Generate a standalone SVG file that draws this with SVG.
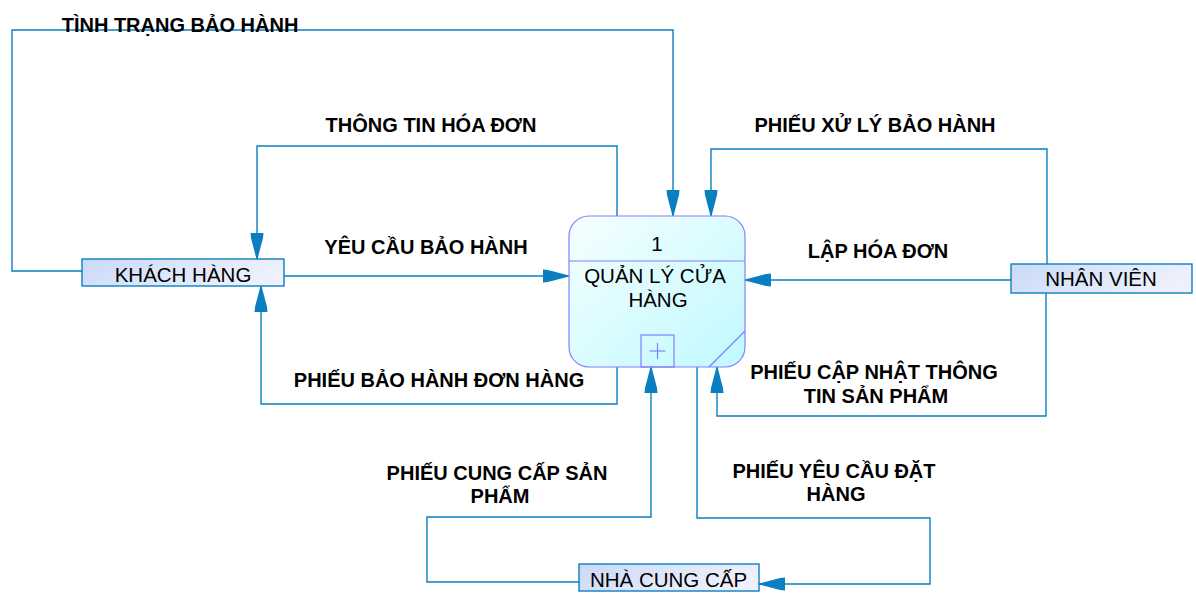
<svg xmlns="http://www.w3.org/2000/svg" width="1196" height="606" viewBox="0 0 1196 606">
  <style>
    .flow { fill: none; stroke: #0a7fc0; stroke-width: 1.4; marker-end: url(#arrow); }
    .lbl { font-family: "Liberation Sans", Arial, sans-serif; font-size: 20px; font-weight: bold; fill: #000; text-anchor: middle; }
    .ent rect { fill: url(#entGrad); stroke: #0a7fc0; stroke-width: 1.4; }
    .ent text, .proc text { font-family: "Liberation Sans", Arial, sans-serif; font-size: 20.5px; fill: #000; text-anchor: middle; }
    .proc .body { fill: url(#procGrad); stroke: #8080ff; stroke-width: 1.2; }
    .proc .ln { stroke: #8080ff; stroke-width: 1.2; fill: none; }
  </style>
  <defs>
    <linearGradient id="procGrad" x1="0" y1="0" x2="1" y2="1">
      <stop offset="0" stop-color="#f6ffff"/>
      <stop offset="1" stop-color="#bff9ff"/>
    </linearGradient>
    <linearGradient id="entGrad" x1="0" y1="0" x2="1" y2="0.3">
      <stop offset="0" stop-color="#c9d9f7"/>
      <stop offset="1" stop-color="#eef1fd"/>
    </linearGradient>
    <marker id="arrow" markerUnits="userSpaceOnUse" markerWidth="28" markerHeight="16" refX="26" refY="7" orient="auto">
      <path d="M0,0.5 L5,1 L26,6.5 L26,7.5 L5,13 L0,13.5 Z" fill="#0a7fc0"/>
    </marker>
  </defs>

  <rect x="0" y="0" width="1196" height="606" fill="#ffffff"/>

  <g id="connectors">
    <path class="flow" d="M82,271 H12 V30 H673 V216"/>
    <path class="flow" d="M617,216 V146 H257 V259"/>
    <path class="flow" d="M284,276 H569"/>
    <path class="flow" d="M617,367 V404 H261 V286"/>
    <path class="flow" d="M1047,264 V149 H711 V216"/>
    <path class="flow" d="M1011,280 H745"/>
    <path class="flow" d="M1046,293 V416 H717 V367"/>
    <path class="flow" d="M579,582 H427 V517 H651 V367"/>
    <path class="flow" d="M697,367 V518 H930 V584 H759"/>
  </g>

  <g id="labels">
    <text class="lbl" x="180" y="32">TÌNH TRẠNG BẢO HÀNH</text>
    <text class="lbl" x="431" y="132">THÔNG TIN HÓA ĐƠN</text>
    <text class="lbl" x="426" y="254">YÊU CẦU BẢO HÀNH</text>
    <text class="lbl" x="439" y="387">PHIẾU BẢO HÀNH ĐƠN HÀNG</text>
    <text class="lbl" x="875" y="132">PHIẾU XỬ LÝ BẢO HÀNH</text>
    <text class="lbl" x="878" y="258">LẬP HÓA ĐƠN</text>
    <text class="lbl" x="874" y="379">PHIẾU CẬP NHẬT THÔNG</text>
    <text class="lbl" x="876" y="403">TIN SẢN PHẨM</text>
    <text class="lbl" x="834" y="478">PHIẾU YÊU CẦU ĐẶT</text>
    <text class="lbl" x="836" y="501">HÀNG</text>
    <text class="lbl" x="497" y="480">PHIẾU CUNG CẤP SẢN</text>
    <text class="lbl" x="500" y="503">PHẨM</text>
  </g>

  <g id="process-1" class="proc">
    <rect class="body" x="569" y="216" width="176" height="151" rx="20" ry="20"/>
    <line class="ln" x1="569" y1="261" x2="745" y2="261"/>
    <rect class="ln" x="641" y="335" width="33" height="32"/>
    <line class="ln" x1="649.5" y1="351" x2="665.5" y2="351" stroke-width="0.8"/>
    <line class="ln" x1="657.5" y1="343" x2="657.5" y2="359" stroke-width="0.8"/>
    <line class="ln" x1="745" y1="331" x2="709" y2="367"/>
    <text x="657" y="251">1</text>
    <text x="655" y="283">QUẢN LÝ CỬA</text>
    <text x="658" y="307">HÀNG</text>
  </g>

  <g id="khach-hang" class="ent">
    <rect x="82" y="259" width="202" height="27"/>
    <text x="183" y="282">KHÁCH HÀNG</text>
  </g>

  <g id="nhan-vien" class="ent">
    <rect x="1011" y="264" width="181" height="29"/>
    <text x="1101" y="286">NHÂN VIÊN</text>
  </g>

  <g id="nha-cung-cap" class="ent">
    <rect x="579" y="564" width="180" height="27"/>
    <text x="668.5" y="587">NHÀ CUNG CẤP</text>
  </g>
</svg>
